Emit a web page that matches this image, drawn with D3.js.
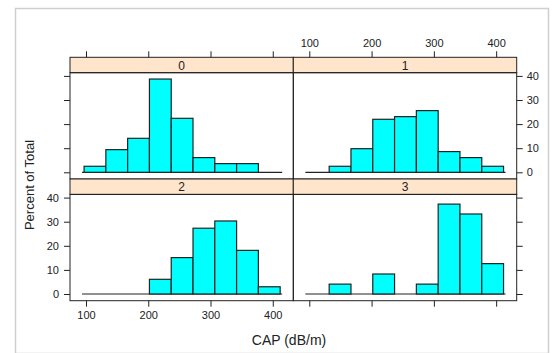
<!DOCTYPE html>
<html>
<head>
<meta charset="utf-8">
<script src="https://d3js.org/d3.v7.min.js"></script>
<style>
  body { margin: 0; background: #fff; }
  text { font-family: "Liberation Sans", Arial, sans-serif; fill: #222; }
</style>
</head>
<body>
<script>
// histogram breaks (CAP, dB/m)
var breaks = [96.9, 131.9, 166.9, 201.9, 236.9, 271.9, 306.9, 341.9, 376.9, 411.9];
var panelNames = ["0", "1", "2", "3"];
// percent of total per bin
var pct0 = [2.5, 9.4, 14.1, 38.7, 22.4, 6.1, 3.6, 3.6, 0];
var pct1 = [0, 2.5, 9.8, 22.0, 23.1, 25.6, 8.6, 6.1, 2.5];
var pct2 = [0, 0, 0, 6.1, 15.1, 27.3, 30.3, 18.1, 3.0];
var pct3 = [0, 4.1, 0, 8.3, 0, 4.1, 37.3, 33.2, 12.6];
var xTicks = [100, 200, 300, 400];
var yTicks = [0, 10, 20, 30, 40];

var W = 555, H = 353;
var colX = [70, 293.3, 516.7];
var rowTop = [57.3, 179];      // strip top
var stripH = 15.4;
var rowBottom = [179, 300.7];

var svg = d3.select("body").append("svg")
    .attr("width", W)
    .attr("height", H);

// light frame
svg.append("rect")
    .attr("x", 15.5).attr("y", 8.5)
    .attr("width", 533).attr("height", 345)
    .attr("fill", "none")
    .attr("stroke", "#cfcfcf")
    .attr("stroke-width", 1.5);

var series = [pct0, pct1, pct2, pct3];

series.forEach(function(vals, k) {
  var col = k % 2, row = Math.floor(k / 2);
  var x = d3.scaleLinear().domain([74.3, 433]).range([colX[col], colX[col + 1]]);
  var y = d3.scaleLinear().domain([-2.78, 41.33])
      .range([rowBottom[row], rowTop[row] + stripH]);
  var g = svg.append("g");

  // strip
  g.append("rect")
      .attr("x", colX[col]).attr("y", rowTop[row])
      .attr("width", colX[col + 1] - colX[col]).attr("height", stripH)
      .attr("fill", "#ffe5cc")
      .attr("stroke", "#222").attr("stroke-width", 1);
  g.append("text")
      .attr("x", (colX[col] + colX[col + 1]) / 2)
      .attr("y", rowTop[row] + stripH / 2 + 4.5)
      .attr("text-anchor", "middle")
      .style("font-size", "12px")
      .text(panelNames[k]);

  // baseline
  g.append("line")
      .attr("x1", x(breaks[0]) - 2).attr("x2", x(breaks[breaks.length - 1]) + 2)
      .attr("y1", y(0)).attr("y2", y(0))
      .attr("stroke", "#222").attr("stroke-width", 1.2);

  // bars
  g.selectAll(".bar")
      .data(vals.map(function(v, i) { return {v: v, i: i}; }).filter(function(d) { return d.v > 0; }))
    .enter().append("rect")
      .attr("class", "bar")
      .attr("x", function(d) { return x(breaks[d.i]); })
      .attr("width", function(d) { return x(breaks[d.i + 1]) - x(breaks[d.i]); })
      .attr("y", function(d) { return y(d.v); })
      .attr("height", function(d) { return y(0) - y(d.v); })
      .attr("fill", "#00ffff")
      .attr("stroke", "#222")
      .attr("stroke-width", 1.2);

  // panel border
  g.append("rect")
      .attr("x", colX[col]).attr("y", rowTop[row] + stripH)
      .attr("width", colX[col + 1] - colX[col])
      .attr("height", rowBottom[row] - rowTop[row] - stripH)
      .attr("fill", "none")
      .attr("stroke", "#222").attr("stroke-width", 1);

  // axes (lattice alternating)
  var fmt = function(d) { return d; };
  var none = function() { return ""; };
  if (row === 0) {
    var ax = svg.append("g").attr("transform", "translate(0," + rowTop[0] + ")")
        .call(d3.axisTop(x).tickValues(xTicks).tickSize(6).tickPadding(4)
              .tickFormat(col === 1 ? fmt : none));
    styleAxis(ax);
  } else {
    var ax = svg.append("g").attr("transform", "translate(0," + rowBottom[1] + ")")
        .call(d3.axisBottom(x).tickValues(xTicks).tickSize(6).tickPadding(5)
              .tickFormat(col === 0 ? fmt : none));
    styleAxis(ax);
  }
  if (col === 0) {
    var ay = svg.append("g").attr("transform", "translate(" + colX[0] + ",0)")
        .call(d3.axisLeft(y).tickValues(yTicks).tickSize(6).tickPadding(5)
              .tickFormat(row === 1 ? fmt : none));
    styleAxis(ay);
  } else {
    var ay = svg.append("g").attr("transform", "translate(" + colX[2] + ",0)")
        .call(d3.axisRight(y).tickValues(yTicks).tickSize(6).tickPadding(4)
              .tickFormat(row === 0 ? fmt : none));
    styleAxis(ay);
  }
});

function styleAxis(a) {
  a.select(".domain").remove();
  a.selectAll(".tick line").attr("stroke", "#222").attr("stroke-width", 1);
  a.selectAll(".tick text").attr("fill", "#222")
      .style("font-size", "11px")
      .style("font-family", "'Liberation Sans', Arial, sans-serif");
}

// axis titles
svg.append("text")
    .attr("x", 289).attr("y", 345)
    .attr("text-anchor", "middle")
    .style("font-size", "14px")
    .text("CAP (dB/m)");

svg.append("text")
    .attr("transform", "translate(34,185) rotate(-90)")
    .attr("text-anchor", "middle")
    .style("font-size", "13px")
    .text("Percent of Total");
</script>
</body>
</html>
